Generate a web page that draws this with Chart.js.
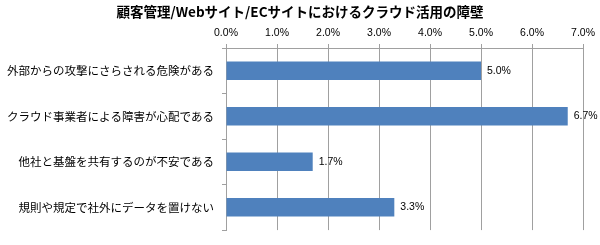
<!DOCTYPE html>
<html>
<head>
<meta charset="utf-8">
<script src="https://cdn.jsdelivr.net/npm/chart.js@4/dist/chart.umd.min.js"></script>
<style>
	html, body { margin: 0; padding: 0; background: #fff; }
	#wrap { position: relative; width: 600px; height: 245px; }
</style>
</head>
<body>
<div id="wrap"><canvas id="bar-chart"></canvas></div>
<script>
const chartTitle = '顧客管理/Webサイト/ECサイトにおけるクラウド活用の障壁'
const categories = [
	'外部からの攻撃にさらされる危険がある',
	'クラウド事業者による障害が心配である',
	'他社と基盤を共有するのが不安である',
	'規則や規定で社外にデータを置けない'
]
const values = [5.0, 6.7, 1.7, 3.3]
const tickLabels = ['0.0%', '1.0%', '2.0%', '3.0%', '4.0%', '5.0%', '6.0%', '7.0%']

const jpFont = '"Noto Sans CJK JP", "Noto Sans", sans-serif'
const numFont = '"Liberation Sans", "Noto Sans", sans-serif'

// title drawn by hand, centred on the whole picture
const titlePlugin = {
	id: 'pageTitle',
	afterDraw(chart) {
		const ctx = chart.ctx
		ctx.save()
		ctx.font = 'bold 13.5px ' + jpFont
		ctx.fillStyle = '#000'
		ctx.textAlign = 'center'
		ctx.textBaseline = 'middle'
		ctx.fillText(chartTitle, 300, 12)
		ctx.restore()
	}
}

// value labels at the end of each bar
const valueLabels = {
	id: 'valueLabels',
	afterDatasetsDraw(chart) {
		const ctx = chart.ctx
		const meta = chart.getDatasetMeta(0)
		ctx.save()
		ctx.font = '10.5px ' + numFont
		ctx.fillStyle = '#000'
		ctx.textAlign = 'left'
		ctx.textBaseline = 'middle'
		meta.data.forEach((bar, i) => {
			ctx.fillText(values[i].toFixed(1) + '%', bar.x + 6, bar.y)
		})
		ctx.restore()
	}
}

new Chart(document.getElementById('bar-chart'), {
	type: 'bar',
	data: {
		labels: categories,
		datasets: [
			{
				data: values,
				backgroundColor: '#4f81bd',
				borderWidth: 0,
				categoryPercentage: 1,
				barPercentage: 0.405
			}
		]
	},
	options: {
		indexAxis: 'y',
		responsive: true,
		maintainAspectRatio: false,
		animation: false,
		layout: {
			padding: { left: 0, right: 16, top: 0, bottom: 12 }
		},
		plugins: {
			legend: { display: false },
			title: { display: false },
			tooltip: { enabled: false }
		},
		scales: {
			x: {
				position: 'top',
				min: 0,
				max: 7,
				ticks: {
					stepSize: 1,
					color: '#000',
					padding: 5,
					font: { family: numFont, size: 10.5 },
					callback: (v, i) => tickLabels[i]
				},
				grid: {
					color: '#a0a0a0',
					tickLength: 4
				},
				border: { display: true, color: '#a0a0a0' },
				afterFit: (scale) => { scale.height = 48 }
			},
			y: {
				ticks: {
					color: '#000',
					padding: 8,
					font: { family: jpFont, size: 11.5 }
				},
				grid: {
					offset: true,
					drawOnChartArea: false,
					color: '#a0a0a0',
					tickLength: 4
				},
				border: { display: true, color: '#a0a0a0' },
				afterFit: (scale) => { scale.width = 226 }
			}
		}
	},
	plugins: [titlePlugin, valueLabels]
})
</script>
</body>
</html>
